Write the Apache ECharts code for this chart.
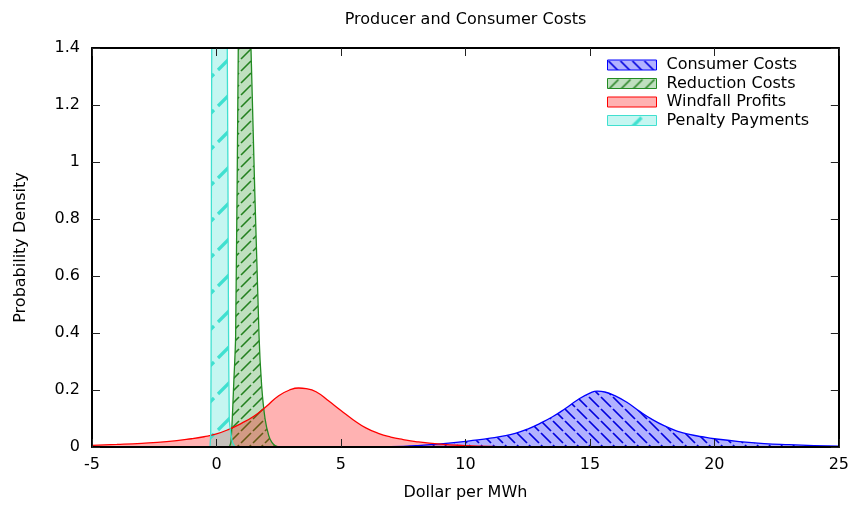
<!DOCTYPE html>
<html>
<head>
<meta charset="utf-8">
<script src="https://cdn.jsdelivr.net/npm/echarts@6/dist/echarts.min.js"></script>
<style>
  html, body { margin: 0; padding: 0; background: #fff; }
  #chart { width: 852px; height: 506px; }
</style>
</head>
<body>
<div id="chart"></div>
<script>
// Axis ticks
const xTicks = [-5, 0, 5, 10, 15, 20, 25];
const yTicks = [0, 0.2, 0.4, 0.6, 0.8, 1, 1.2, 1.4];

// Consumer Costs density
const consumerX = [7, 8, 9, 10, 10.5, 11, 11.5, 12, 12.5, 13, 13.5, 14, 14.5, 15, 15.3, 15.6, 16, 16.5, 17, 17.5, 18, 18.5, 19, 19.5, 20, 21, 22, 23, 24, 25];
const consumerY = [0.001, 0.005, 0.011, 0.02, 0.025, 0.031, 0.038, 0.048, 0.063, 0.083, 0.106, 0.134, 0.165, 0.189, 0.196, 0.193, 0.18, 0.156, 0.125, 0.097, 0.074, 0.056, 0.044, 0.036, 0.029, 0.019, 0.012, 0.008, 0.005, 0.003];

// Reduction Costs density
const reductionX = [0.52, 0.58, 0.635, 0.69, 0.77, 0.876, 0.95, 1.05, 1.15, 1.25, 1.386, 1.71, 1.815, 1.95, 2.1, 2.22, 2.35, 2.5];
const reductionY = [0, 0.017, 0.1, 0.215, 0.39, 1.4, 2.1, 2.6, 2.6, 2.1, 1.4, 0.39, 0.215, 0.1, 0.04, 0.017, 0.005, 0];

// Windfall Profits density
const windfallX = [-5, -4, -3, -2, -1, -0.5, 0, 0.5, 1, 1.5, 2, 2.5, 3, 3.3, 3.6, 4, 4.5, 5, 5.5, 6, 6.5, 7, 7.5, 8, 9, 10, 11, 12, 13];
const windfallY = [0.006, 0.009, 0.013, 0.019, 0.029, 0.036, 0.046, 0.062, 0.083, 0.108, 0.142, 0.18, 0.202, 0.207, 0.205, 0.194, 0.162, 0.128, 0.095, 0.067, 0.048, 0.035, 0.026, 0.019, 0.01, 0.005, 0.002, 0.001, 0];

// Penalty Payments density
const penaltyX = [-0.26, -0.23, -0.21, -0.19, -0.1, 0.1, 0.3, 0.434, 0.48, 0.514, 0.58, 0.65, 0.75];
const penaltyY = [0, 0.05, 0.5, 1.4, 2.0, 2.2, 2.0, 1.4, 0.5, 0.1, 0.045, 0.015, 0];

const FONT = 'DejaVu Sans';

function zip(xs, ys) { return xs.map((x, i) => [x, ys[i]]); }

// Hatched fill tile: translucent background plus one diagonal stroke
function hatchTile(size, fill, stroke, lineWidth, dir, gap) {
  const c = document.createElement('canvas');
  c.width = size; c.height = size;
  const g = c.getContext('2d');
  g.fillStyle = fill;
  g.fillRect(0, 0, size, size);
  if (stroke) {
    g.strokeStyle = stroke;
    g.lineWidth = lineWidth;
    g.lineCap = 'butt';
    g.beginPath();
    if (dir === '/') { g.moveTo(gap, size - gap); g.lineTo(size - gap, gap); }
    else { g.moveTo(gap, gap); g.lineTo(size - gap, size - gap); }
    g.stroke();
  }
  return { image: c, repeat: 'repeat' };
}

const blueFill = hatchTile(12, 'rgba(0,0,255,0.3)', '#0000dd', 1.7, '\\', 1);
const greenFill = hatchTile(12, 'rgba(0,128,0,0.25)', '#23801f', 1.6, '/', 1);
const redFill = hatchTile(12, 'rgba(255,0,0,0.3)', null, 0, '/', 0);
const cyanFill = hatchTile(36, 'rgba(64,224,208,0.3)', '#40e0d0', 3.2, '/', 2);

const names = ['Consumer Costs', 'Reduction Costs', 'Windfall Profits', 'Penalty Payments'];
const edges = ['#0000ff', '#228b22', '#ff0000', '#40e0d0'];
const fills = [blueFill, greenFill, redFill, cyanFill];
const smoothing = [0.5, 0.25, 0.5, 0.2];
const datasets = [zip(consumerX, consumerY), zip(reductionX, reductionY), zip(windfallX, windfallY), zip(penaltyX, penaltyY)];

const axisCommon = {
  type: 'value',
  axisLine: { show: true, onZero: false, lineStyle: { color: '#000', width: 2 } },
  axisTick: { show: true, inside: true, length: 8, lineStyle: { color: '#222', width: 1 } },
  splitLine: { show: false },
  z: 10
};

const chart = echarts.init(document.getElementById('chart'), null, { renderer: 'canvas' });
chart.setOption({
  animation: false,
  backgroundColor: '#fff',
  textStyle: { fontFamily: FONT },
  title: {
    text: 'Producer and Consumer Costs',
    left: 465.5, top: 12, padding: 0, textAlign: 'center',
    textStyle: { fontFamily: FONT, fontSize: 16, fontWeight: 'normal', color: '#000' }
  },
  grid: { left: 92, right: 13, top: 48, bottom: 54, containLabel: false },
  legend: {
    orient: 'vertical',
    left: 607, top: 57, padding: 0,
    itemWidth: 49, itemHeight: 10, itemGap: 2.5,
    icon: 'rect',
    textStyle: { fontFamily: FONT, fontSize: 16, color: '#000', padding: [0, 0, 0, 5] },
    data: names.map((n, i) => ({
      name: n, icon: 'rect',
      itemStyle: { color: fills[i], borderColor: edges[i], borderWidth: 1, opacity: 1 }
    }))
  },
  xAxis: [
    Object.assign({}, axisCommon, {
      position: 'bottom', min: xTicks[0], max: xTicks[xTicks.length - 1], interval: 5,
      name: 'Dollar per MWh', nameLocation: 'middle', nameGap: 38,
      nameTextStyle: { fontFamily: FONT, fontSize: 16, color: '#000' },
      axisLabel: { show: true, margin: 10, fontFamily: FONT, fontSize: 16, color: '#000' }
    }),
    Object.assign({}, axisCommon, {
      position: 'top', min: xTicks[0], max: xTicks[xTicks.length - 1], interval: 5,
      axisLabel: { show: false }
    })
  ],
  yAxis: [
    Object.assign({}, axisCommon, {
      position: 'left', min: yTicks[0], max: yTicks[yTicks.length - 1], interval: 0.2,
      name: 'Probability Density', nameLocation: 'middle', nameGap: 63, nameRotate: 90,
      nameTextStyle: { fontFamily: FONT, fontSize: 16, color: '#000' },
      axisLabel: { show: true, margin: 12, fontFamily: FONT, fontSize: 16, color: '#000' }
    }),
    Object.assign({}, axisCommon, {
      position: 'right', min: yTicks[0], max: yTicks[yTicks.length - 1], interval: 0.2,
      axisLabel: { show: false }
    })
  ],
  series: names.map((n, i) => ({
    name: n,
    type: 'line',
    xAxisIndex: 0, yAxisIndex: 0,
    data: datasets[i],
    symbol: 'none', showSymbol: false,
    smooth: smoothing[i],
    clip: true,
    lineStyle: { color: edges[i], width: 1.3 },
    itemStyle: { color: edges[i] },
    areaStyle: { color: fills[i], opacity: 1 },
    z: 2
  }))
});
</script>
</body>
</html>
